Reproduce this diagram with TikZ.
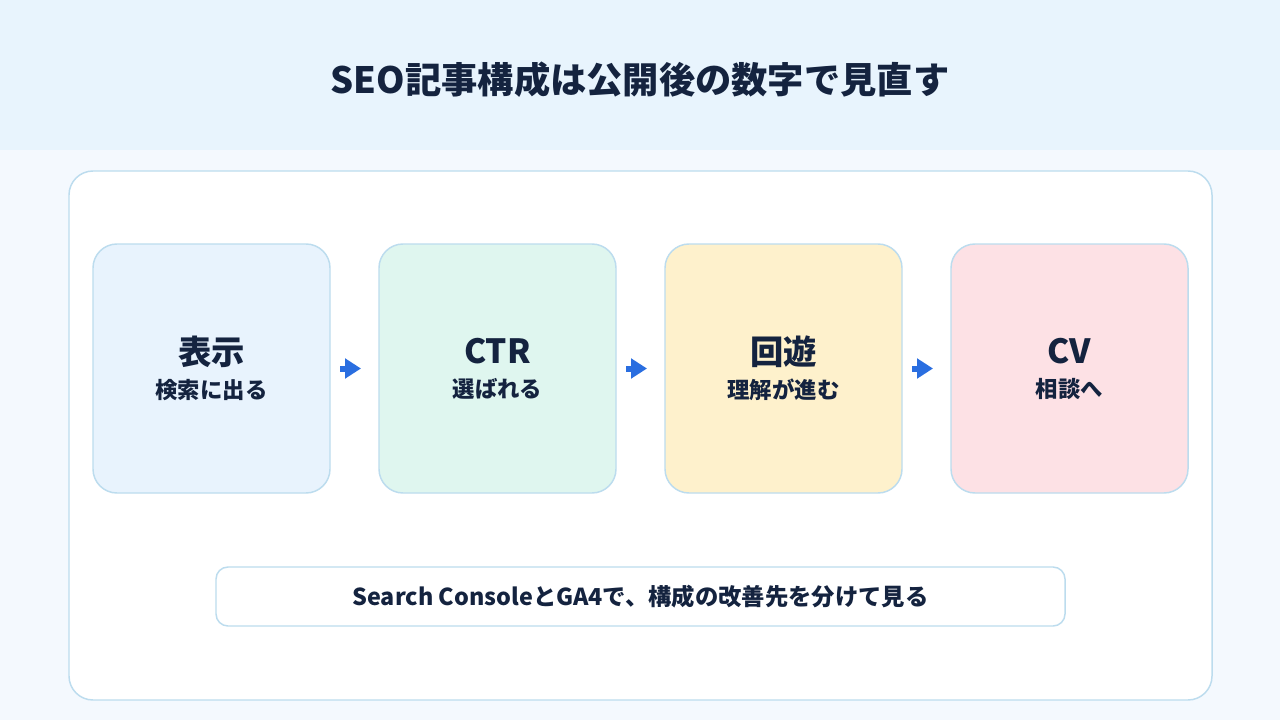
\documentclass[tikz,border=0pt]{standalone}
\usepackage{fontspec}
\setmainfont{Noto Sans CJK JP}
\usetikzlibrary{positioning,arrows.meta}
\definecolor{ink}{HTML}{14233F}
\definecolor{headbg}{HTML}{E8F4FD}
\definecolor{pagebg}{HTML}{F4F9FE}
\definecolor{edge}{HTML}{BCDCEE}
\definecolor{flowblue}{HTML}{2A6EE0}
\definecolor{cardblue}{HTML}{E8F3FD}
\definecolor{cardmint}{HTML}{DFF6EF}
\definecolor{cardsun}{HTML}{FEF1CC}
\definecolor{cardrose}{HTML}{FDE1E5}

\begin{document}
\begin{tikzpicture}[x=0.75pt,y=-0.75pt,
card/.style={draw=edge,line width=1.1pt,rounded corners=18pt,outer sep=0pt,
  minimum width=177.75pt,minimum height=186.75pt,align=center,text=ink,
  font=\bfseries\fontsize{16.8}{25.5}\selectfont},
flow/.style={-{Triangle[length=12pt,width=14.5pt]},line width=4.5pt,draw=flowblue,
  shorten <=7.5pt,shorten >=13.5pt},
>=Stealth
]
\useasboundingbox (0,0) rectangle (1280,720);
\fill[pagebg] (0,0) rectangle (1280,720);
\fill[headbg] (0,0) rectangle (1280,150);

\node[text=ink,font=\bfseries\fontsize{27.2}{32}\selectfont] (title) at (640,80) {SEO記事構成は公開後の数字で見直す};

\node[draw=edge,fill=white,line width=1.1pt,rounded corners=18pt,
  minimum width=857.25pt,minimum height=396.75pt] (panel) at (640.5,435.5) {};

\node[card,fill=cardblue] (disp) at (211.5,368.5) {{\fontsize{25}{30}\selectfont 表示}\\検索に出る};
\node[card,fill=cardmint,right=36.75pt of disp] (ctr) {{\fontsize{25}{30}\selectfont CTR}\\選ばれる};
\node[card,fill=cardsun,right=36.75pt of ctr] (tour) {{\fontsize{25}{30}\selectfont 回遊}\\理解が進む};
\node[card,fill=cardrose,right=36.75pt of tour] (cv) {{\fontsize{25}{30}\selectfont CV}\\相談へ};

\draw[flow] (disp) -- (ctr);
\draw[flow] (ctr) -- (tour);
\draw[flow] (tour) -- (cv);

\node[draw=edge,fill=white,line width=1.1pt,rounded corners=9pt,
  minimum width=636.75pt,minimum height=44.25pt,text=ink,
  font=\bfseries\fontsize{17.5}{21}\selectfont] (note) at (640.5,596.5)
  {Search ConsoleとGA4で、構成の改善先を分けて見る};
\end{tikzpicture}
\end{document}
